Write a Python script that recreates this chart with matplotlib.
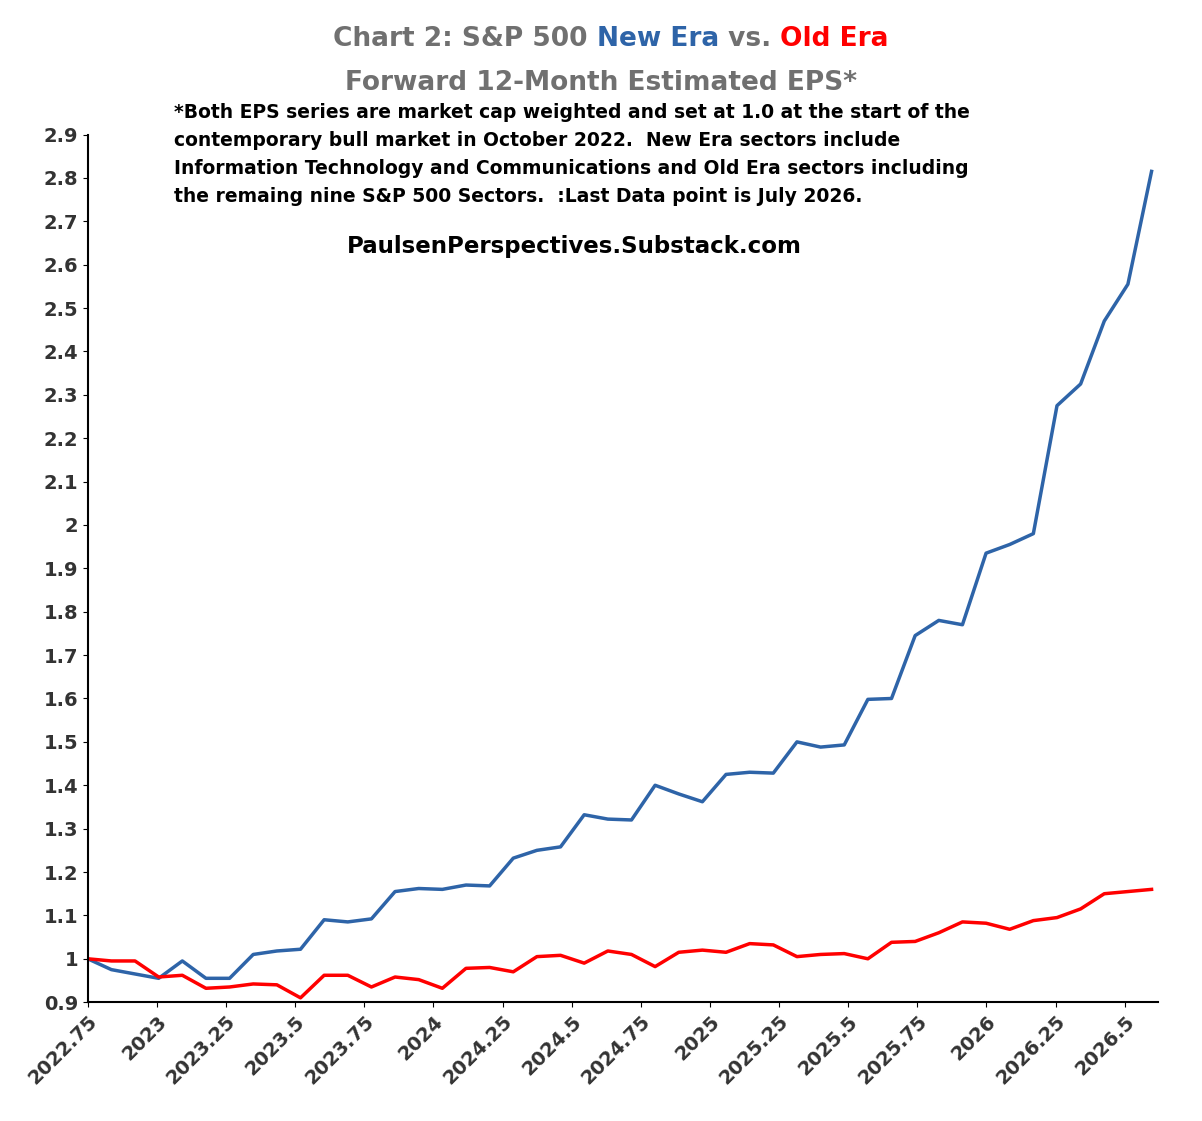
import matplotlib
matplotlib.use("Agg")
import matplotlib.pyplot as plt
import numpy as np

start = 2022.75
new_era = [1.00, 0.975, 0.965, 0.955, 0.995, 0.955, 0.955, 1.01, 1.018, 1.022,
           1.09, 1.085, 1.092, 1.155, 1.162, 1.16, 1.17, 1.168, 1.232, 1.25,
           1.258, 1.332, 1.322, 1.32, 1.40, 1.38, 1.362, 1.425, 1.43, 1.428,
           1.50, 1.488, 1.493, 1.598, 1.60, 1.745, 1.78, 1.77, 1.935, 1.955,
           1.98, 2.275, 2.325, 2.47, 2.555, 2.815]
old_era = [1.00, 0.995, 0.995, 0.958, 0.962, 0.932, 0.935, 0.942, 0.94, 0.91,
           0.962, 0.962, 0.935, 0.958, 0.952, 0.932, 0.978, 0.98, 0.97, 1.005,
           1.008, 0.99, 1.018, 1.01, 0.982, 1.015, 1.02, 1.015, 1.035, 1.032,
           1.005, 1.01, 1.012, 1.0, 1.038, 1.04, 1.06, 1.085, 1.082, 1.068,
           1.088, 1.095, 1.115, 1.15, 1.155, 1.16]
xticks = [2022.75, 2023, 2023.25, 2023.5, 2023.75, 2024, 2024.25, 2024.5, 2024.75,
          2025, 2025.25, 2025.5, 2025.75, 2026, 2026.25, 2026.5]
xlabels = ["2022.75", "2023", "2023.25", "2023.5", "2023.75", "2024", "2024.25", "2024.5",
           "2024.75", "2025", "2025.25", "2025.5", "2025.75", "2026", "2026.25", "2026.5"]
yticks = [0.9, 1, 1.1, 1.2, 1.3, 1.4, 1.5, 1.6, 1.7, 1.8, 1.9, 2, 2.1, 2.2, 2.3, 2.4, 2.5, 2.6, 2.7, 2.8, 2.9]

end_x = 2022.75 + 3.75 * 1069 / 1042
xn = np.linspace(start, end_x, len(new_era))
xo = np.linspace(start, end_x, len(old_era))

fig = plt.figure(figsize=(12.02, 11.21), dpi=100)
ax = fig.add_axes([0.073, 0.106, 0.89, 0.774])
ax.plot(xn, new_era, color="#2e64a8", lw=2.5)
ax.plot(xo, old_era, color="#ff0000", lw=2.5)
ax.set_xlim(2022.75, 2022.75 + 3.75 * 1075 / 1042)
ax.set_ylim(0.9, 2.9)
ax.set_yticks(yticks)
ax.set_yticklabels([f"{v:g}" for v in yticks], fontsize=14, fontweight="bold", color="#333333")
ax.set_xticks(xticks)
ax.set_xticklabels(xlabels, rotation=45, ha="right", rotation_mode="anchor", fontsize=14,
                   fontweight="bold", color="#333333")
for s in ["top", "right"]:
    ax.spines[s].set_visible(False)
ax.spines["left"].set_linewidth(1.5)
ax.spines["bottom"].set_linewidth(1.5)

gray = "#707070"
y1 = 0.965
parts = [("Chart 2: S&P 500 ", gray), ("New Era", "#2e64a8"), (" vs. ", gray), ("Old Era", "#ff0000")]
t = fig.text(0.277, y1, parts[0][0], color=parts[0][1], fontsize=19, fontweight="bold", va="center")
fig.canvas.draw()
for txt, c in parts[1:]:
    t = ax.annotate(txt, xycoords=t, xy=(1, 0), va="bottom", color=c, fontsize=19, fontweight="bold")
fig.text(0.5, 0.926, "Forward 12-Month Estimated EPS*", color=gray, fontsize=19, fontweight="bold",
         ha="center", va="center")
note = ("*Both EPS series are market cap weighted and set at 1.0 at the start of the\n"
        "contemporary bull market in October 2022.  New Era sectors include\n"
        "Information Technology and Communications and Old Era sectors including\n"
        "the remaing nine S&P 500 Sectors.  :Last Data point is July 2026.")
fig.text(0.145, 0.908, note, fontsize=13.5, fontweight="bold", va="top", linespacing=1.6)
fig.text(0.478, 0.78, "PaulsenPerspectives.Substack.com", fontsize=16.5, fontweight="bold",
         ha="center", va="center")
fig.savefig("out.png", dpi=100)
